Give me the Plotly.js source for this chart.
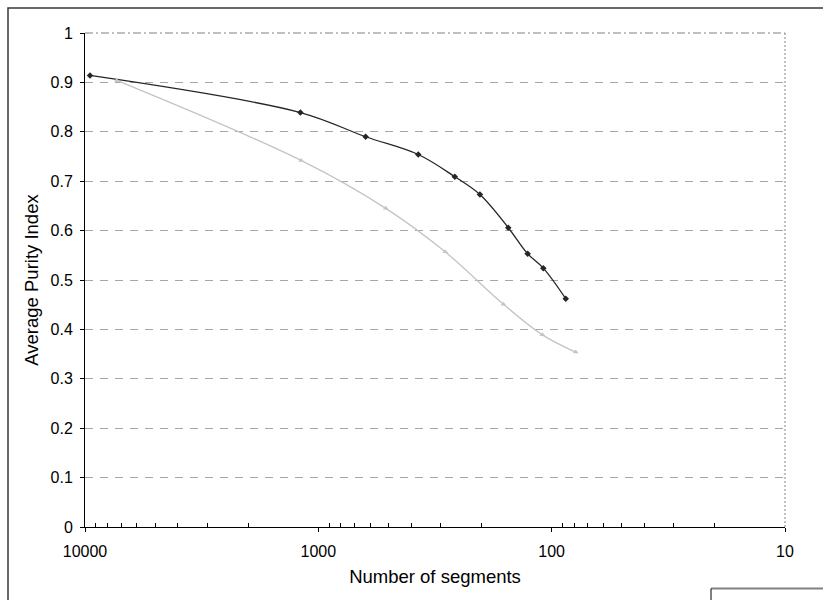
<!DOCTYPE html>
<html>
<head>
<meta charset="utf-8">
<script src="https://cdn.plot.ly/plotly-3.0.1.min.js"></script>
<style>body{margin:0;padding:0;background:#fff;} #chart{width:823px;height:600px;}</style>
</head>
<body>
<div id="chart"></div>
<script>
// Series A (black, diamonds)
var segmentsA = [9520, 1194, 627, 373, 260, 203, 153.5, 126.7, 108.6, 87];
var purityA   = [0.914, 0.839, 0.790, 0.754, 0.709, 0.673, 0.606, 0.553, 0.524, 0.462];
// Series B (grey, triangles)
var segmentsB = [7310, 1186, 514, 286, 161, 109.6, 78.9];
var purityB   = [0.904, 0.742, 0.645, 0.557, 0.451, 0.389, 0.354];

var xTickVals = [10000, 1000, 100, 10];
var xTickText = ["10000", "1000", "100", "10"];
var yTickVals = [0, 0.1, 0.2, 0.3, 0.4, 0.5, 0.6, 0.7, 0.8, 0.9, 1];
var yTickText = ["0", "0.1", "0.2", "0.3", "0.4", "0.5", "0.6", "0.7", "0.8", "0.9", "1"];

var minorVals = [];
[10, 100, 1000].forEach(function (d) {
  for (var m = 2; m <= 9; m++) minorVals.push(m * d);
});

var traces = [
  {
    x: segmentsA, y: purityA, type: "scatter", mode: "lines+markers",
    line: {color: "#262626", width: 1.3, shape: "spline", smoothing: 1},
    marker: {symbol: "diamond", size: 5, color: "#262626"},
    showlegend: false, hoverinfo: "skip"
  },
  {
    x: segmentsB, y: purityB, type: "scatter", mode: "lines+markers",
    line: {color: "#c4c4c4", width: 1.3, shape: "spline", smoothing: 1},
    marker: {symbol: "triangle-up", size: 5, color: "#c4c4c4"},
    showlegend: false, hoverinfo: "skip"
  }
];

var layout = {
  width: 823, height: 600,
  margin: {l: 85, r: 38, t: 33, b: 73, pad: 0},
  paper_bgcolor: "#ffffff", plot_bgcolor: "#ffffff",
  font: {family: "Liberation Sans, Arial, sans-serif", color: "#000000", size: 16},
  showlegend: false,
  xaxis: {
    type: "log", autorange: false, range: [4, 1],
    tickmode: "array", tickvals: xTickVals, ticktext: xTickText,
    ticks: "outside", ticklen: 4, tickwidth: 1, tickcolor: "#000",
    showline: true, linecolor: "#000", linewidth: 1,
    showgrid: false, zeroline: false,
    tickfont: {size: 16, color: "#000"},
    ticklabelstandoff: 6,
    minor: {tickmode: "array", tickvals: minorVals, ticks: "inside", ticklen: 4, tickcolor: "#000", tickwidth: 1, showgrid: false},
    title: {text: "Number of segments", font: {size: 18.5, color: "#000"}, standoff: 10}
  },
  yaxis: {
    autorange: false, range: [0, 1],
    tickmode: "array", tickvals: yTickVals, ticktext: yTickText,
    ticks: "outside", ticklen: 4, tickwidth: 1, tickcolor: "#000",
    showline: true, linecolor: "#000", linewidth: 1,
    showgrid: true, gridcolor: "#a6a6a6", gridwidth: 1, griddash: "8px,7px",
    zeroline: false,
    tickfont: {size: 16, color: "#000"},
    ticklabelstandoff: 4,
    title: {text: "Average Purity Index", font: {size: 18.5, color: "#000"}, standoff: 7}
  },
  shapes: [
    // top plot border (dash-dot)
    {type: "line", xref: "paper", yref: "paper", x0: 0, x1: 1, y0: 1, y1: 1, layer: "above",
     line: {color: "#ffffff", width: 2}},
    {type: "line", xref: "paper", yref: "paper", x0: 0, x1: 1, y0: 1, y1: 1, layer: "above",
     line: {color: "#808080", width: 1, dash: "8px,3px,2px,3px"}},
    // right plot border (dotted)
    {type: "line", xref: "paper", yref: "paper", x0: 1, x1: 1, y0: 0, y1: 1, layer: "above",
     line: {color: "#808080", width: 1, dash: "2px,2px"}},
    // outer chart border
    {type: "rect", xref: "paper", yref: "paper", x0: -0.11, x1: 1.07, y0: -0.2, y1: 1.0507, layer: "above",
     line: {color: "#383838", width: 1.5}, fillcolor: "rgba(0,0,0,0)"},
    // legend box corner (cut off)
    {type: "line", xref: "paper", yref: "paper", x0: 0.8943, x1: 1.07, y0: -0.1247, y1: -0.1247, layer: "above",
     line: {color: "#808080", width: 2}},
    {type: "line", xref: "paper", yref: "paper", x0: 0.8943, x1: 0.8943, y0: -0.1247, y1: -0.2, layer: "above",
     line: {color: "#000000", width: 1}}
  ]
};

Plotly.newPlot("chart", traces, layout, {displayModeBar: false, staticPlot: true});
</script>
</body>
</html>
